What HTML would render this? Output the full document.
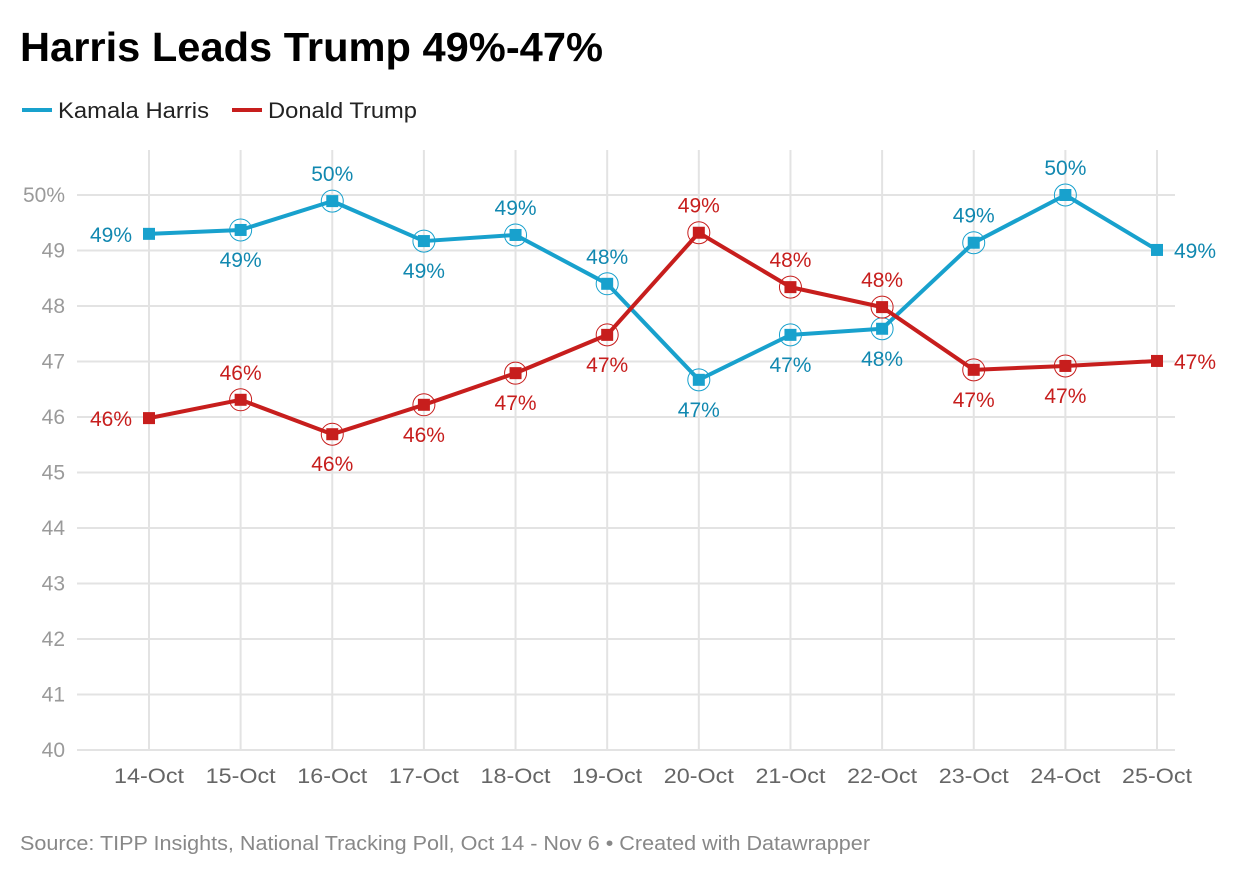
<!DOCTYPE html>
<html><head><meta charset="utf-8"><style>
body{margin:0;background:#fff;font-family:"Liberation Sans",Arial,sans-serif;}
</style></head><body>
<svg width="1240" height="876" viewBox="0 0 1240 876" xmlns="http://www.w3.org/2000/svg" font-family="Liberation Sans, Arial, sans-serif">
<text x="20" y="61" font-size="41" font-weight="bold" fill="#000" textLength="583" lengthAdjust="spacingAndGlyphs">Harris Leads Trump 49%-47%</text>
<g>
<line x1="22" y1="110" x2="52" y2="110" stroke="#18a1cd" stroke-width="4"/>
<text x="58" y="118" font-size="22" fill="#222" textLength="151" lengthAdjust="spacingAndGlyphs">Kamala Harris</text>
<line x1="232" y1="110" x2="262" y2="110" stroke="#c71e1d" stroke-width="4"/>
<text x="268" y="118" font-size="22" fill="#222" textLength="149" lengthAdjust="spacingAndGlyphs">Donald Trump</text>
</g>
<g id="grid"></g>
<g id="series"></g>
<text x="20" y="850" font-size="20" fill="#888" textLength="850" lengthAdjust="spacingAndGlyphs">Source: TIPP Insights, National Tracking Poll, Oct 14 - Nov 6 • Created with Datawrapper</text>
</svg>
<script>
const categories=["14-Oct","15-Oct","16-Oct","17-Oct","18-Oct","19-Oct","20-Oct","21-Oct","22-Oct","23-Oct","24-Oct","25-Oct"];
const harris=[49.30,49.37,49.89,49.17,49.28,48.40,46.67,47.48,47.59,49.14,50.0,49.01];
const trump=[45.98,46.31,45.69,46.22,46.79,47.48,49.32,48.34,47.98,46.85,46.92,47.01];
const harrisLabels=["49%","49%","50%","49%","49%","48%","47%","47%","48%","49%","50%","49%"];
const trumpLabels=["46%","46%","46%","46%","47%","47%","49%","48%","48%","47%","47%","47%"];
const harrisPos=["l","b","t","b","t","t","b","b","b","t","t","r"];
const trumpPos=["l","t","b","b","b","b","t","t","t","b","b","r"];
const yTicks=[40,41,42,43,44,45,46,47,48,49,50];
const NS="http://www.w3.org/2000/svg";
const x=i=>149+i*(1157-149)/(categories.length-1);
const y=v=>750-(v-40)*55.5;
function mk(t,a,p){const e=document.createElementNS(NS,t);for(const k in a)e.setAttribute(k,a[k]);p.appendChild(e);return e;}
const grid=document.getElementById('grid'),ser=document.getElementById('series');
yTicks.forEach(v=>{
 const l=mk('line',{x1:77,x2:1175,y1:y(v),y2:y(v),stroke:'#e3e3e3','stroke-width':2},grid);
 
 
 const t=mk('text',{x:65,y:y(v)+7,'text-anchor':'end','font-size':21,fill:'#9a9a9a'},grid);
 t.textContent=v===50?'50%':String(v);
 
 
});
categories.forEach((c,i)=>{
 const l=mk('line',{x1:x(i),x2:x(i),y1:150,y2:750,stroke:'#e3e3e3','stroke-width':2},grid);
 
 
 const t=mk('text',{x:x(i),y:783,'text-anchor':'middle','font-size':21,fill:'#666',textLength:70,lengthAdjust:'spacingAndGlyphs'},grid);
 t.textContent=c;
 
 
});
function series(vals,labels,pos,col,tcol,name){
 const g=mk('g',{},ser);
 
 
 const p=mk('polyline',{points:vals.map((v,i)=>x(i)+','+y(v)).join(' '),fill:'none',stroke:col,'stroke-width':4,'stroke-linejoin':'round'},g);
 
 
 vals.forEach((v,i)=>{
  const cx=x(i),cy=y(v);
  if(i>0&&i<vals.length-1){const c=mk('circle',{cx:cx,cy:cy,r:11,fill:'none',stroke:col,'stroke-width':1},g);
   
   }
  const r=mk('rect',{x:cx-6,y:cy-6,width:12,height:12,fill:col},g);
  
  
  let tx=cx,ty,anc='middle';const ps=pos[i];
  if(ps==='t')ty=cy-20;else if(ps==='b')ty=cy+37;else{ty=cy+8;if(ps==='l'){tx=cx-17;anc='end';}else{tx=cx+17;anc='start';}}
  const t=mk('text',{x:tx,y:ty,'text-anchor':anc,'font-size':21,fill:tcol},g);
  t.textContent=labels[i];
  
  
 });
}
series(harris,harrisLabels,harrisPos,'#18a1cd','#1188b0','harris');
series(trump,trumpLabels,trumpPos,'#c71e1d','#c71e1d','trump');
</script>
</body></html>
